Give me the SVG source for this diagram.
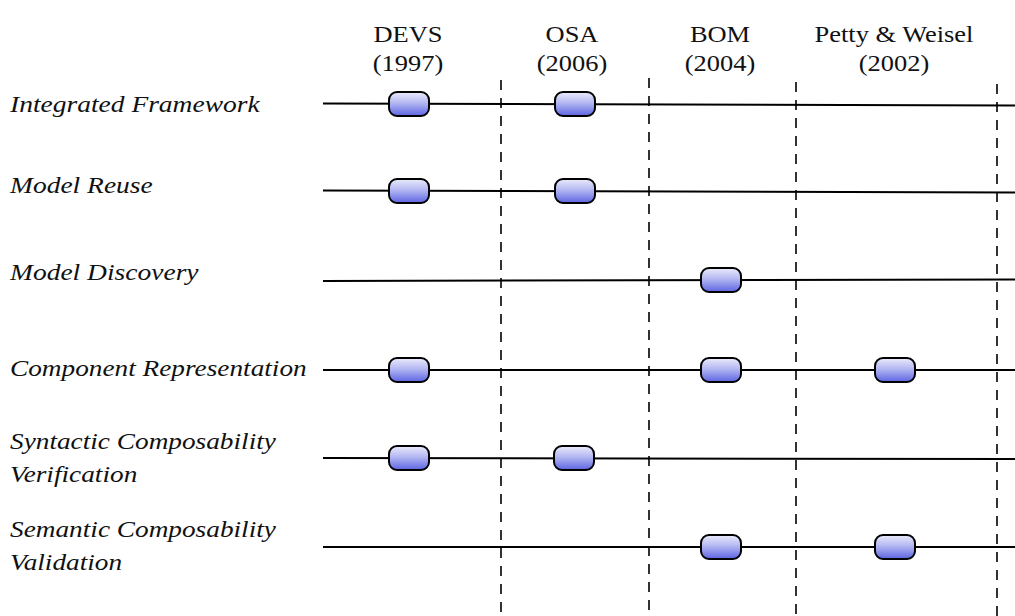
<svg xmlns="http://www.w3.org/2000/svg" width="1015" height="616" viewBox="0 0 1015 616">
  <defs>
    <linearGradient id="pillFill" x1="0" y1="0" x2="0" y2="1">
      <stop offset="0" stop-color="#ebebfb"/>
      <stop offset="0.45" stop-color="#b4b8f2"/>
      <stop offset="1" stop-color="#5c64e2"/>
    </linearGradient>
  </defs>
  <style>
    .hdr { font-family: "Liberation Serif", "Times New Roman", serif; font-size: 23px; fill: #111; text-anchor: middle; }
    .lbl { font-family: "Liberation Serif", "Times New Roman", serif; font-size: 24px; font-style: italic; fill: #111; }
    .track { stroke: #000; stroke-width: 2; fill: none; }
    .divider { stroke: #000; stroke-width: 1.6; stroke-dasharray: 10 8; fill: none; }
    .pill { fill: url(#pillFill); stroke: #000; stroke-width: 2; }
  </style>
  <rect width="1015" height="616" fill="#fff"/>

  <!-- column headers (type set slightly wide) -->
  <g id="headers">
    <text class="hdr" transform="translate(408,42) scale(1.15,1)">DEVS</text>
    <text class="hdr" transform="translate(408,71) scale(1.15,1)">(1997)</text>
    <text class="hdr" transform="translate(572,42) scale(1.15,1)">OSA</text>
    <text class="hdr" transform="translate(572,71) scale(1.15,1)">(2006)</text>
    <text class="hdr" transform="translate(720,42) scale(1.15,1)">BOM</text>
    <text class="hdr" transform="translate(720,71) scale(1.15,1)">(2004)</text>
    <text class="hdr" transform="translate(894,42) scale(1.15,1)">Petty &amp; Weisel</text>
    <text class="hdr" transform="translate(894,71) scale(1.15,1)">(2002)</text>
  </g>

  <!-- row labels (type set slightly wide) -->
  <g id="labels">
    <text class="lbl" transform="translate(10,112) scale(1.146,1)">Integrated Framework</text>
    <text class="lbl" transform="translate(10,193) scale(1.146,1)">Model Reuse</text>
    <text class="lbl" transform="translate(10,280) scale(1.146,1)">Model Discovery</text>
    <text class="lbl" transform="translate(10,376) scale(1.137,1)">Component Representation</text>
    <text class="lbl" transform="translate(10,449) scale(1.137,1)">Syntactic Composability</text>
    <text class="lbl" transform="translate(10,482) scale(1.137,1)">Verification</text>
    <text class="lbl" transform="translate(10,537) scale(1.137,1)">Semantic Composability</text>
    <text class="lbl" transform="translate(10,570) scale(1.137,1)">Validation</text>
  </g>

  <!-- connectors: feature tracks and column dividers -->
  <g id="connectors">
    <line class="track" x1="323" y1="103.5" x2="1015" y2="105.5"/>
    <line class="track" x1="323" y1="190.5" x2="1015" y2="192.5"/>
    <line class="track" x1="323" y1="281" x2="1015" y2="279.5"/>
    <line class="track" x1="323" y1="370" x2="1015" y2="370"/>
    <line class="track" x1="323" y1="458" x2="1015" y2="459"/>
    <line class="track" x1="323" y1="547" x2="1015" y2="547"/>

    <line class="divider" x1="501" y1="80" x2="501" y2="616"/>
    <line class="divider" x1="649" y1="78" x2="649" y2="616"/>
    <line class="divider" x1="796" y1="82" x2="796" y2="616"/>
    <line class="divider" x1="997" y1="84" x2="997" y2="616"/>
  </g>

  <!-- markers for each approach -->
  <g id="devs">
    <rect class="pill" x="389" y="92" width="40" height="24" rx="8"/>
    <rect class="pill" x="389" y="179" width="40" height="24" rx="8"/>
    <rect class="pill" x="389" y="358" width="40" height="24" rx="8"/>
    <rect class="pill" x="389" y="446" width="40" height="24" rx="8"/>
  </g>
  <g id="osa">
    <rect class="pill" x="555" y="92" width="40" height="24" rx="8"/>
    <rect class="pill" x="555" y="179" width="40" height="24" rx="8"/>
    <rect class="pill" x="554" y="446" width="40" height="24" rx="8"/>
  </g>
  <g id="bom">
    <rect class="pill" x="701" y="268" width="40" height="24" rx="8"/>
    <rect class="pill" x="701" y="358" width="40" height="24" rx="8"/>
    <rect class="pill" x="701" y="535" width="40" height="24" rx="8"/>
  </g>
  <g id="petty-weisel">
    <rect class="pill" x="875" y="358" width="40" height="24" rx="8"/>
    <rect class="pill" x="875" y="535" width="40" height="24" rx="8"/>
  </g>
</svg>
